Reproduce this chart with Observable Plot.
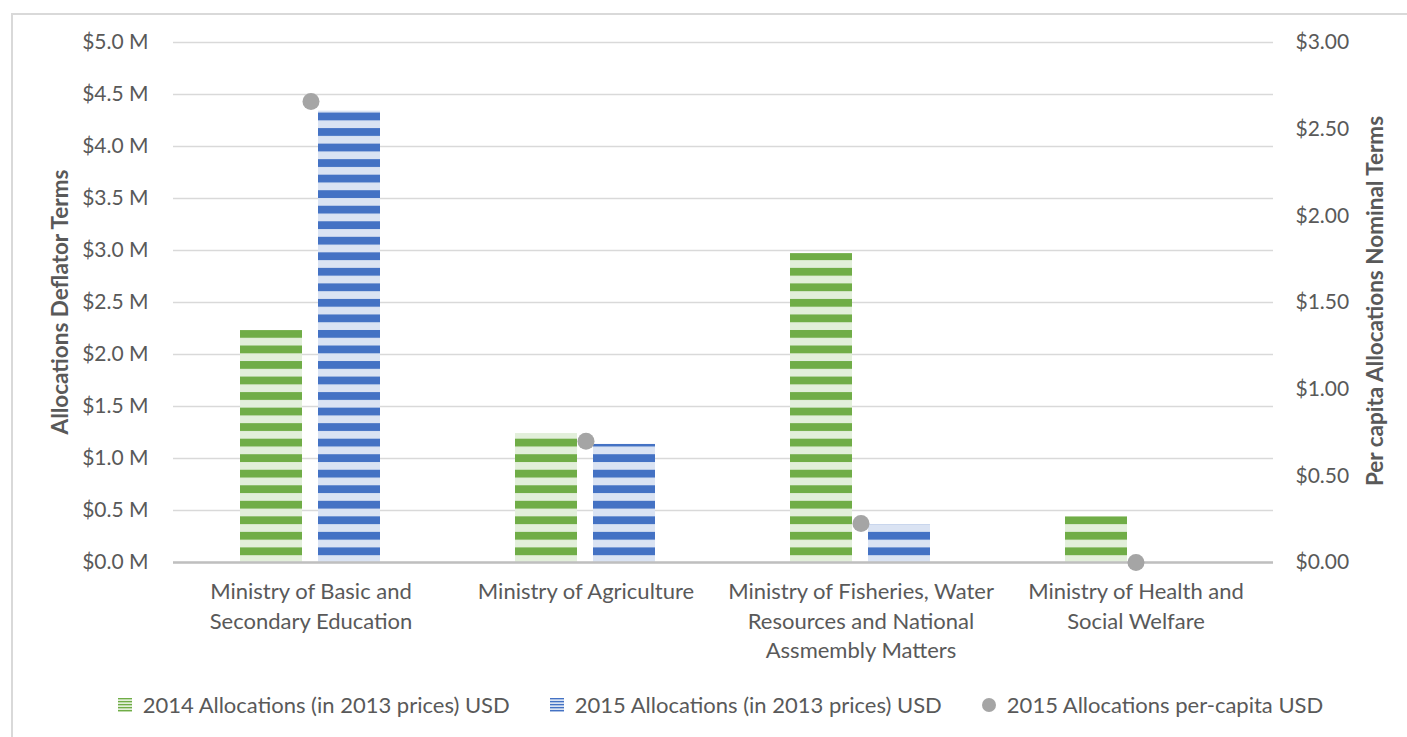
<!DOCTYPE html>
<html>
<head>
<meta charset="utf-8">
<script src="https://cdn.jsdelivr.net/npm/d3@7"></script>
<script src="https://cdn.jsdelivr.net/npm/@observablehq/plot@0.6"></script>
<style>
  html, body { margin: 0; padding: 0; background: #fff; }
  body { width: 1407px; height: 737px; position: relative; overflow: hidden; font-family: Lato, "Open Sans", sans-serif; color: #595959; }
  #frame { position: absolute; left: 11px; top: 13px; width: 1400px; height: 740px; border: 2px solid #d9d9d9; box-sizing: border-box; pointer-events: none; }
  #chart { position: absolute; left: 0; top: 0; }
  #legend { position: absolute; left: 17px; top: 692px; width: 1407px; display: flex; justify-content: center; font-size: 22px; line-height: 26px; color: #595959; }
  .item { display: flex; align-items: center; margin: 0 20px; }
  .swatch { width: 14px; height: 14px; margin-right: 11px; }
</style>
</head>
<body>
<div id="chart"></div>
<div id="legend"></div>
<div id="frame"></div>
<script>
// ---- data ----
const categories = [
  "Ministry of Basic and Secondary Education",
  "Ministry of Agriculture",
  "Ministry of Fisheries, Water Resources and National Assmembly Matters",
  "Ministry of Health and Social Welfare"
];
const categoryLabels = [
  "Ministry of Basic and\nSecondary Education",
  "Ministry of Agriculture",
  "Ministry of Fisheries, Water\nResources and National\nAssmembly Matters",
  "Ministry of Health and\nSocial Welfare"
];
const seriesNames = [
  "2014 Allocations (in 2013 prices) USD",
  "2015 Allocations (in 2013 prices) USD",
  "2015 Allocations per-capita USD"
];
const alloc2014 = [2230000, 1240000, 2970000, 440000];
const alloc2015 = [4340000, 1135000, 365000, 0];
const perCapita2015 = [2.66, 0.70, 0.225, 0];
const leftTicks = [0, 500000, 1000000, 1500000, 2000000, 2500000, 3000000, 3500000, 4000000, 4500000, 5000000];
const rightTicks = [0, 0.5, 1, 1.5, 2, 2.5, 3];

// ---- derived tables ----
const leftMax = 5000000, rightMax = 3;
const toLeft = v => v * leftMax / rightMax;
const rows = [];
categories.forEach((c, i) => {
  rows.push({category: c, series: "2014", value: alloc2014[i]});
  rows.push({category: c, series: "2015", value: alloc2015[i]});
});
const dots = categories.map((c, i) => ({category: c, value: perCapita2015[i]}));
const labelOf = Object.fromEntries(categories.map((c, i) => [c, categoryLabels[i]]));

const chart = Plot.plot({
  width: 1407,
  height: 680,
  marginLeft: 172,
  marginRight: 134,
  marginTop: 42,
  marginBottom: 118,
  style: {fontFamily: "Lato, 'Open Sans', sans-serif", fontSize: "21px", color: "#595959", background: "transparent", overflow: "visible"},
  fx: {domain: categories, paddingInner: 0, paddingOuter: 0, label: null},
  x: {domain: ["2014", "2015"], paddingInner: 0.2025, paddingOuter: 0.842, axis: null},
  y: {domain: [0, leftMax], axis: null},
  marks: [
    Plot.gridY(leftTicks, {stroke: "#d9d9d9", strokeOpacity: 1, strokeWidth: 1.6}),
    Plot.barY(rows.filter(d => d.series === "2014"), {fx: "category", x: "series", y: "value", fill: "url(#stripe2014)"}),
    Plot.barY(rows.filter(d => d.series === "2015"), {fx: "category", x: "series", y: "value", fill: "url(#stripe2015)"}),
    Plot.ruleY([0], {stroke: "#bfbfbf", strokeWidth: 2.5}),
    Plot.dot(dots, {fx: "category", y: d => toLeft(d.value), r: 8.5, fill: "#a5a5a5", stroke: "none"}),
    Plot.axisY(leftTicks, {anchor: "left", tickSize: 0, tickPadding: 25, fontSize: 21, label: null,
      tickFormat: d => "$" + (d / 1e6).toFixed(1) + " M"}),
    Plot.axisY(rightTicks.map(toLeft), {anchor: "right", tickSize: 0, tickPadding: 22, fontSize: 21, label: null,
      tickFormat: d => "$" + (d * rightMax / leftMax).toFixed(2)}),
    Plot.axisFx({anchor: "bottom", tickSize: 0, tickPadding: 16, fontSize: 22, lineHeight: 1.34, label: null,
      tickFormat: d => labelOf[d]})
  ]
});

// stripe patterns (anchored to the chart's coordinates)
const period = 15.53, dark = 7.8, phase = 547.4;
const defs = d3.create("svg:defs");
function addPattern(id, light, darkC) {
  const p = defs.append("pattern").attr("id", id).attr("patternUnits", "userSpaceOnUse")
    .attr("x", 0).attr("y", phase).attr("width", 10).attr("height", period);
  p.append("rect").attr("width", 10).attr("height", period).attr("fill", light);
  p.append("rect").attr("width", 10).attr("height", dark).attr("fill", darkC);
}
addPattern("stripe2014", "#e2efda", "#70ad47");
addPattern("stripe2015", "#dae3f3", "#4472c4");
chart.insertBefore(defs.node(), chart.firstChild);

// axis titles
const svg = d3.select(chart);
svg.append("text")
  .attr("transform", "translate(62,302) rotate(-90)")
  .attr("text-anchor", "middle").attr("dominant-baseline", "middle")
  .attr("font-weight", "bold").attr("font-size", 22.5).attr("fill", "#595959")
  .text("Allocations Deflator Terms");
svg.append("text")
  .attr("transform", "translate(1377,301) rotate(-90)")
  .attr("text-anchor", "middle").attr("dominant-baseline", "middle")
  .attr("font-weight", "bold").attr("font-size", 22.5).attr("fill", "#595959")
  .text("Per capita Allocations Nominal Terms");

document.getElementById("chart").appendChild(chart);

// legend
const legend = d3.select("#legend");
const swatchDefs = [
  {name: seriesNames[0], light: "#e2efda", dark: "#70ad47"},
  {name: seriesNames[1], light: "#dae3f3", dark: "#4472c4"},
  {name: seriesNames[2], circle: "#a5a5a5"}
];
swatchDefs.forEach(s => {
  const it = legend.append("div").attr("class", "item");
  const sw = it.append("svg").attr("class", "swatch").attr("width", 14).attr("height", 14);
  if (s.circle) {
    sw.append("circle").attr("cx", 7).attr("cy", 7).attr("r", 7).attr("fill", s.circle);
  } else {
    for (let k = 0; k < 5; k++) {
      sw.append("rect").attr("x", 0).attr("y", k * 3).attr("width", 14).attr("height", 1.6).attr("fill", s.dark);
      sw.append("rect").attr("x", 0).attr("y", k * 3 + 1.6).attr("width", 14).attr("height", 1.4).attr("fill", s.light);
    }
  }
  it.append("span").text(s.name);
});
</script>
</body>
</html>
